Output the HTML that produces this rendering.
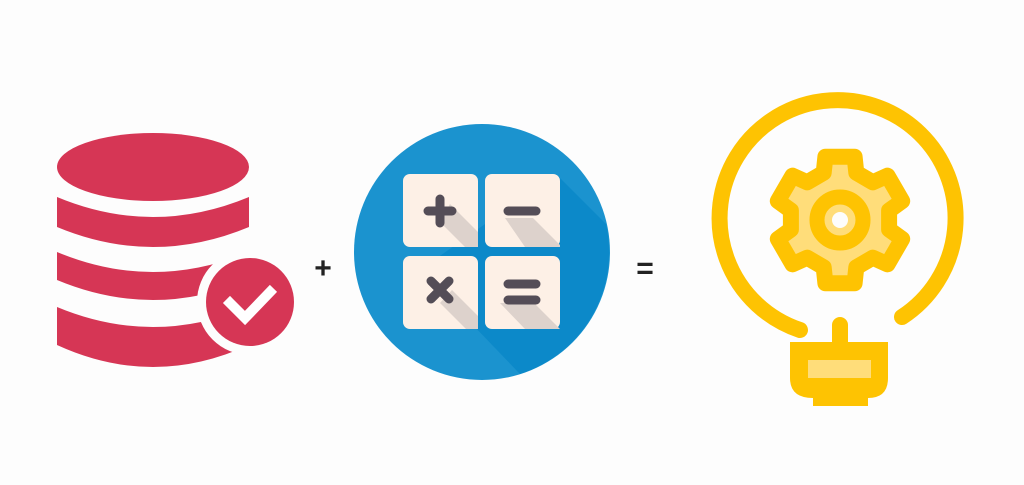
<!DOCTYPE html>
<html><head><style>
html,body{margin:0;padding:0;background:#fdfdfd;}
svg{display:block}
</style></head><body>
<svg width="1024" height="485" viewBox="0 0 1024 485" xmlns="http://www.w3.org/2000/svg">
<rect width="1024" height="485" fill="#fdfdfd"/>
<!-- database -->
<g fill="#d63655">
<ellipse cx="153" cy="167" rx="96" ry="34"/>
<path d="M57 197 Q153 237 249 197 L249 227 Q153 267 57 227 Z"/>
<path d="M57 252 Q153 292 249 252 L249 280 Q153 320 57 280 Z"/>
<path d="M57 307 Q153 347 249 307 L249 345 Q153 389 57 345 Z"/>
</g>
<circle cx="250" cy="302" r="53" fill="#fdfdfd"/>
<circle cx="250" cy="302" r="44" fill="#d63655"/>
<path d="M230 303 L245 318 L270 292" fill="none" stroke="#fff" stroke-width="10" stroke-linecap="square"/>
<text x="323" y="278" font-family="Liberation Sans, sans-serif" font-size="30" font-weight="bold" text-anchor="middle" fill="#222">+</text>
<!-- calculator -->
<circle cx="482" cy="252" r="128" fill="#1b93cf"/>
<path d="M556 174 L606 224 A128 128 0 0 1 520 374 L420 270 Z" fill="#0584c6" opacity="0.7"/>
<g>
<rect x="403" y="174" width="75" height="73" rx="7" fill="#fdf0e6"/>
<rect x="485" y="174" width="75" height="73" rx="7" fill="#fdf0e6"/>
<rect x="403" y="256" width="75" height="73" rx="7" fill="#fdf0e6"/>
<rect x="485" y="256" width="75" height="73" rx="7" fill="#fdf0e6"/>
<path d="M440 222 L465 247 L478 247 L478 232 L450 204 Z" fill="#ddd2cc"/>
<path d="M533 218 L560 245 L560 247 L525 247 L505 218 Z" fill="#ddd2cc"/>
<path d="M440 303 L466 329 L478 329 L478 316 L452 290 Z" fill="#ddd2cc"/>
<path d="M533 302 L560 329 L525 329 L500 303 Z" fill="#ddd2cc"/>
<g stroke="#544d57" stroke-width="9" stroke-linecap="round" fill="none">
<path d="M428 211 H452 M440 199 V223"/>
<path d="M508 211 H536"/>
<path d="M431 281 L449 299 M449 281 L431 299"/>
<path d="M508 284 H536 M508 300 H536"/>
</g>
</g>
<text x="645" y="278" font-family="Liberation Sans, sans-serif" font-size="30" font-weight="bold" text-anchor="middle" fill="#222">=</text>
<!-- bulb -->
<g stroke="#fec302" stroke-width="16" stroke-linecap="round" stroke-linejoin="round" fill="none">
<path d="M800 330 A118 118 0 1 1 902 317"/>
<line x1="840" y1="325" x2="840" y2="345"/>
</g>
<path d="M790 342 H888 V378 Q888 398 868 398 H868 V406 H813 V398 Q790 398 790 378 Z" fill="#fec302"/>
<rect x="808" y="360" width="63" height="18" fill="#ffdd7a"/>
<path id="gear" d="" fill="#ffdd7a" stroke="#fec302" stroke-width="16" stroke-linejoin="round"/>
<circle cx="840" cy="220" r="23" fill="none" stroke="#fec302" stroke-width="15"/>
<circle cx="840" cy="220" r="8" fill="#fdfdfd"/>
</svg>
<script>
(function(){
var cx=840,cy=220,ro=65,rb=50,pts=[];
for(var i=0;i<6;i++){
 var a=(-90+i*60)*Math.PI/180, tw=13*Math.PI/180, bw=19*Math.PI/180;
 pts.push([a-bw,rb],[a-tw,ro],[a+tw,ro],[a+bw,rb]);
}
var d=pts.map(function(p,i){return (i?'L':'M')+(cx+p[1]*Math.cos(p[0])).toFixed(1)+' '+(cy+p[1]*Math.sin(p[0])).toFixed(1);}).join(' ')+'Z';
document.getElementById('gear').setAttribute('d',d);
})();
</script>
</body></html>
